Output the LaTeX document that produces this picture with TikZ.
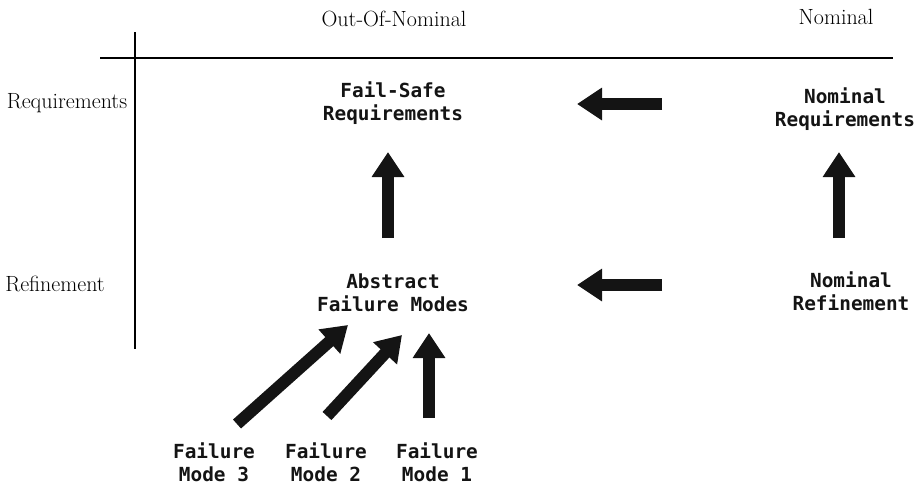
\documentclass[tikz,border=0pt]{standalone}
\usepackage{fontspec}
\setmonofont{DejaVu Sans Mono}
\usetikzlibrary{arrows.meta}
\definecolor{ink}{HTML}{141414}
\tikzset{
  hdr/.style={font=\fontsize{22}{26}\selectfont, inner sep=0pt, anchor=center},
  box/.style={font=\ttfamily\bfseries\fontsize{19.4}{23}\selectfont, text=ink, align=center, inner sep=0pt, anchor=center},
  bigarrow/.style={draw=ink, line width=12pt, -{Triangle[length=25pt,width=31pt]}},
  axis/.style={line width=1.6pt}
}
\begin{document}
\begin{tikzpicture}[x=1pt,y=-1pt]
\useasboundingbox (0,0) rectangle (921,485);
% axes
\coordinate (hl) at (100,58);
\coordinate (hr) at (893,58);
\coordinate (vt) at (135,32);
\coordinate (vb) at (135,349);
\draw[axis] (hl) -- (hr);
\draw[axis] (vt) -- (vb);
% headers
\node[hdr] (oon) at (394,19) {Out-Of-Nominal};
\node[hdr] (nom) at (836,17) {Nominal};
\node[hdr] (req) at (67,103) {Requirements};
\node[hdr] (ref) at (55,284) {Refinement};
% nodes
\node[box] (fsr) at (393,103) {Fail-Safe\\Requirements};
\node[box] (nr) at (845,109) {Nominal\\Requirements};
\node[box] (afm) at (393,293) {Abstract\\Failure Modes};
\node[box] (nref) at (851,291) {Nominal\\Refinement};
\node[box] (fm3) at (214,462) {Failure\\Mode 3};
\node[box] (fm2) at (326,462) {Failure\\Mode 2};
\node[box] (fm1) at (437,462) {Failure\\Mode 1};
% arrow ends
\coordinate (a1s) at (662,104); \coordinate (a1e) at (577,104);
\coordinate (a2s) at (662,285); \coordinate (a2e) at (577,285);
\coordinate (a3s) at (388,238); \coordinate (a3e) at (388,152);
\coordinate (a4s) at (839,238); \coordinate (a4e) at (839,152);
\coordinate (a5s) at (237,424); \coordinate (a5e) at (348,325);
\coordinate (a6s) at (327,416); \coordinate (a6e) at (402,335);
\coordinate (a7s) at (429,418); \coordinate (a7e) at (429,333);
\draw[bigarrow] (a1s) -- (a1e);
\draw[bigarrow] (a2s) -- (a2e);
\draw[bigarrow] (a3s) -- (a3e);
\draw[bigarrow] (a4s) -- (a4e);
\draw[bigarrow] (a5s) -- (a5e);
\draw[bigarrow] (a6s) -- (a6e);
\draw[bigarrow] (a7s) -- (a7e);
\end{tikzpicture}
\end{document}
